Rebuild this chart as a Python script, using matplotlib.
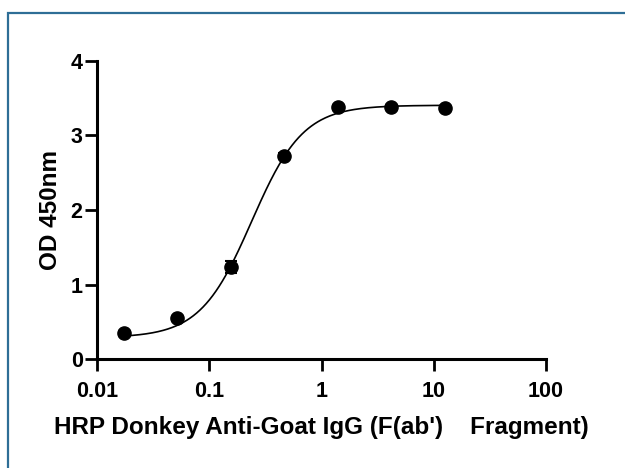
import numpy as np
import matplotlib
matplotlib.use("Agg")
import matplotlib.pyplot as plt
from matplotlib.patches import Rectangle

# ===== Data =====
conc = [0.01715, 0.05144, 0.1543, 0.4630, 1.389, 4.167, 12.5]
od450 = [0.356, 0.549, 1.232, 2.727, 3.376, 3.384, 3.362]
od_err = [0.02, 0.02, 0.08, 0.03, 0.02, 0.02, 0.02]

# 4PL curve parameters (estimated from the drawn fit line)
FIT_BOTTOM = 0.29
FIT_TOP = 3.403
FIT_EC50 = 0.2378
FIT_HILL = 1.89

x_ticks = [0.01, 0.1, 1, 10, 100]
x_tick_labels = ["0.01", "0.1", "1", "10", "100"]
y_ticks = [0, 1, 2, 3, 4]

X_LABEL = "HRP Donkey Anti-Goat IgG (F(ab')    Fragment)"
Y_LABEL = "OD 450nm"


def four_pl(x, bottom, top, ec50, hill):
    return bottom + (top - bottom) / (1.0 + (ec50 / x) ** hill)


plt.rcParams["font.family"] = ["Liberation Sans", "DejaVu Sans"]
plt.rcParams["font.weight"] = "bold"

fig = plt.figure(figsize=(6.25, 4.68), dpi=100)
ax = fig.add_axes([0.1557, 0.2323, 0.7176, 0.6380])

xs = np.logspace(np.log10(conc[0]), np.log10(conc[-1]), 300)
ax.plot(xs, four_pl(xs, FIT_BOTTOM, FIT_TOP, FIT_EC50, FIT_HILL),
        color="black", lw=1.2, zorder=2)

ax.errorbar(conc, od450, yerr=od_err, fmt="o", color="black", ms=9.5,
            elinewidth=1.5, capsize=4.5, capthick=1.5, zorder=3)

ax.set_xscale("log")
ax.set_xlim(0.01, 100)
ax.set_ylim(0, 4)
ax.set_xticks(x_ticks)
ax.set_xticklabels(x_tick_labels)
ax.minorticks_off()
ax.set_yticks(y_ticks)

for side in ["top", "right"]:
    ax.spines[side].set_visible(False)
for side in ["left", "bottom"]:
    ax.spines[side].set_linewidth(2.2)
ax.tick_params(width=2, length=8.5, labelsize=15.5)
ax.tick_params(axis="x", pad=7)
ax.tick_params(axis="y", pad=2)
for lbl in ax.get_xticklabels() + ax.get_yticklabels():
    lbl.set_fontweight("bold")

ax.set_xlabel(X_LABEL, fontsize=17.5, fontweight="bold", labelpad=10)
ax.set_ylabel(Y_LABEL, fontsize=17.5, fontweight="bold", labelpad=6)

# frame around the figure (cut by the right / bottom edges)
fig.patches.append(Rectangle((8.3 / 625, -0.1), 1.2, 1 - 13.3 / 468 + 0.1,
                             transform=fig.transFigure, fill=False,
                             edgecolor="#2e6e96", lw=1.6))

fig.savefig("out.png", dpi=100)
